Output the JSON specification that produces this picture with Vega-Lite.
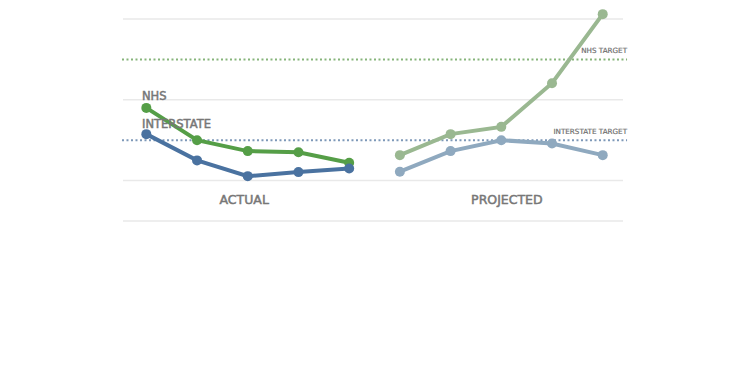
{
  "$schema": "https://vega.github.io/schema/vega-lite/v6.json",
  "width": 500,
  "height": 202,
  "autosize": "none",
  "padding": {"left": 123, "top": 19, "right": 129, "bottom": 167},
  "background": "white",
  "config": {"view": {"stroke": null}},
  "datasets": {
    "pts": [
      {"s": "NHS actual", "i": 0, "v": 2.80},
      {"s": "NHS actual", "i": 1, "v": 2.00},
      {"s": "NHS actual", "i": 2, "v": 1.73},
      {"s": "NHS actual", "i": 3, "v": 1.70},
      {"s": "NHS actual", "i": 4, "v": 1.44},
      {"s": "Interstate actual", "i": 0, "v": 2.15},
      {"s": "Interstate actual", "i": 1, "v": 1.50},
      {"s": "Interstate actual", "i": 2, "v": 1.11},
      {"s": "Interstate actual", "i": 3, "v": 1.21},
      {"s": "Interstate actual", "i": 4, "v": 1.30},
      {"s": "NHS projected", "i": 5, "v": 1.63},
      {"s": "NHS projected", "i": 6, "v": 2.15},
      {"s": "NHS projected", "i": 7, "v": 2.33},
      {"s": "NHS projected", "i": 8, "v": 3.41},
      {"s": "NHS projected", "i": 9, "v": 5.12},
      {"s": "Interstate projected", "i": 5, "v": 1.22},
      {"s": "Interstate projected", "i": 6, "v": 1.73},
      {"s": "Interstate projected", "i": 7, "v": 2.00},
      {"s": "Interstate projected", "i": 8, "v": 1.92},
      {"s": "Interstate projected", "i": 9, "v": 1.63}
    ],
    "grid": [{"v": 0}, {"v": 1}, {"v": 3}, {"v": 5}],
    "targets": [
      {"name": "NHS", "v": 4, "x0": -0.48, "x1": 9.48, "label": "NHS TARGET"},
      {"name": "Interstate", "v": 2, "x0": -0.48, "x1": 9.48, "label": "INTERSTATE TARGET"}
    ],
    "series_labels": [
      {"t": "NHS", "i": -0.085, "v": 3.07},
      {"t": "INTERSTATE", "i": -0.085, "v": 2.38}
    ],
    "group_labels": [
      {"t": "ACTUAL", "i": 1.93, "v": 0.52},
      {"t": "PROJECTED", "i": 7.11, "v": 0.52}
    ]
  },
  "layer": [
    {
      "data": {"name": "grid"},
      "mark": {"type": "rule", "color": "#e9e9e9", "strokeWidth": 1.5},
      "encoding": {
        "y": {"field": "v", "type": "quantitative", "scale": {"domain": [0, 5]}, "axis": null}
      }
    },
    {
      "data": {"name": "targets"},
      "mark": {"type": "rule", "strokeWidth": 2, "strokeDash": [2, 2.5]},
      "encoding": {
        "x": {"field": "x0", "type": "quantitative", "scale": {"domain": [-0.46, 9.4]}, "axis": null},
        "x2": {"field": "x1"},
        "y": {"field": "v", "type": "quantitative", "scale": {"domain": [0, 5]}, "axis": null},
        "color": {"field": "name", "type": "nominal", "scale": {"domain": ["NHS", "Interstate"], "range": ["#86b47a", "#7d98b8"]}, "legend": null}
      }
    },
    {
      "data": {"name": "targets"},
      "mark": {"type": "text", "align": "right", "baseline": "middle", "dy": -8, "fontSize": 7.2, "font": "DejaVu Sans", "color": "#6f6f6f", "stroke": "#6f6f6f", "strokeWidth": 0.2},
      "encoding": {
        "x": {"field": "x1", "type": "quantitative", "scale": {"domain": [-0.46, 9.4]}, "axis": null},
        "y": {"field": "v", "type": "quantitative", "scale": {"domain": [0, 5]}, "axis": null},
        "text": {"field": "label"}
      }
    },
    {
      "data": {"name": "pts"},
      "mark": {"type": "line", "strokeWidth": 4, "clip": false},
      "encoding": {
        "x": {"field": "i", "type": "quantitative", "scale": {"domain": [-0.46, 9.4]}, "axis": null},
        "y": {"field": "v", "type": "quantitative", "scale": {"domain": [0, 5]}, "axis": null},
        "color": {"field": "s", "type": "nominal", "scale": {"domain": ["NHS actual", "Interstate actual", "NHS projected", "Interstate projected"], "range": ["#559e47", "#4a72a0", "#9ab891", "#8fa9bf"]}, "legend": null}
      }
    },
    {
      "data": {"name": "pts"},
      "mark": {"type": "point", "filled": true, "opacity": 1, "size": 100, "clip": false},
      "encoding": {
        "x": {"field": "i", "type": "quantitative", "scale": {"domain": [-0.46, 9.4]}, "axis": null},
        "y": {"field": "v", "type": "quantitative", "scale": {"domain": [0, 5]}, "axis": null},
        "color": {"field": "s", "type": "nominal", "scale": {"domain": ["NHS actual", "Interstate actual", "NHS projected", "Interstate projected"], "range": ["#559e47", "#4a72a0", "#9ab891", "#8fa9bf"]}, "legend": null}
      }
    },
    {
      "data": {"name": "series_labels"},
      "mark": {"type": "text", "align": "left", "baseline": "middle", "font": "DejaVu Sans", "fontSize": 11.5, "color": "#777777", "stroke": "#777777", "strokeWidth": 0.5},
      "encoding": {
        "x": {"field": "i", "type": "quantitative", "scale": {"domain": [-0.46, 9.4]}, "axis": null},
        "y": {"field": "v", "type": "quantitative", "scale": {"domain": [0, 5]}, "axis": null},
        "text": {"field": "t"}
      }
    },
    {
      "data": {"name": "group_labels"},
      "mark": {"type": "text", "align": "center", "baseline": "middle", "font": "DejaVu Sans", "fontSize": 12.5, "color": "#777777", "stroke": "#777777", "strokeWidth": 0.5},
      "encoding": {
        "x": {"field": "i", "type": "quantitative", "scale": {"domain": [-0.46, 9.4]}, "axis": null},
        "y": {"field": "v", "type": "quantitative", "scale": {"domain": [0, 5]}, "axis": null},
        "text": {"field": "t"}
      }
    }
  ],
  "resolve": {"scale": {"color": "independent"}}
}
